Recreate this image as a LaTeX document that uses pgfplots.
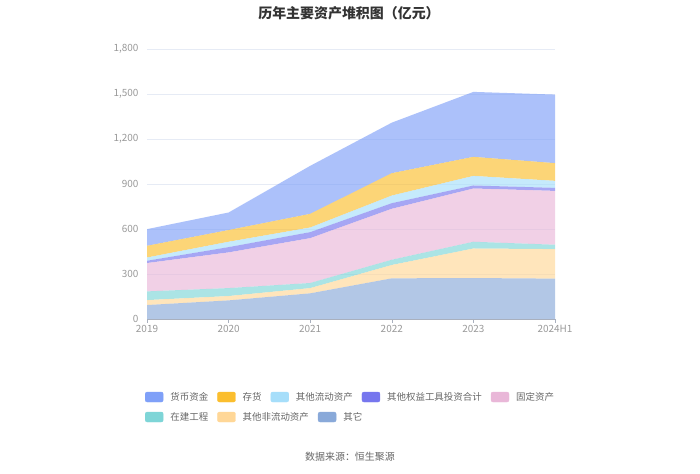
\documentclass[border=0pt]{standalone}
\usepackage{fontspec}
\setmainfont{Noto Sans CJK SC}
\usepackage{pgfplots}
\pgfplotsset{compat=1.18}
\definecolor{c1}{HTML}{7FA0F8}
\definecolor{c2}{HTML}{FBBE2E}
\definecolor{c3}{HTML}{A6DEFA}
\definecolor{c4}{HTML}{7676EE}
\definecolor{c5}{HTML}{E9B7D8}
\definecolor{c6}{HTML}{7ED5D7}
\definecolor{c7}{HTML}{FFD797}
\definecolor{c8}{HTML}{89A9D9}
\definecolor{ticktext}{HTML}{999999}
\definecolor{gridc}{HTML}{E6EBF5}
\definecolor{axisc}{HTML}{A9B0BE}
\pgfplotsset{
  legimg/.style={legend image code/.code={\fill[##1,rounded corners=2bp] (0bp,-5bp) rectangle (18bp,5bp);}},
  legst/.style={legend style={draw=none,fill=none,inner sep=0pt,outer sep=0pt,
     font=\fontsize{9.5}{11}\selectfont, text=black!60,
     nodes={inner sep=0pt},
     /tikz/every odd column/.append style={column sep=7bp},
     /tikz/every even column/.append style={column sep=9bp},
     cells={anchor=west}}},
}
\begin{document}
\begin{tikzpicture}[x=1bp,y=1bp]
\path[use as bounding box] (0,0) rectangle (700,474);
\node[font=\bfseries\fontsize{14}{16}\selectfont, text=black!80] at (349,461) {历年主要资产堆积图（亿元）};
\node[font=\fontsize{10}{12}\selectfont, text=black!60] at (350,17) {数据来源：恒生聚源};
\begin{axis}[
  at={(147bp,155bp)}, anchor=south west,
  scale only axis, width=408bp, height=270bp,
  xmin=0, xmax=5, ymin=0, ymax=1800,
  xtick={0,1,2,3,4,5},
  xticklabels={2019,2020,2021,2022,2023,2024H1},
  ytick={0,300,600,900,1200,1500,1800},
  /pgf/number format/.cd, 1000 sep={,}, assume math mode=true, /pgfplots/.cd,
  axis x line*=bottom, axis y line*=left,
  y axis line style={draw=none},
  x axis line style={draw=axisc, line width=0.8pt, -},
  ytick style={draw=none},
  xtick style={draw=axisc, line width=0.6pt},
  tick align=outside, major tick length=4bp,
  ymajorgrids, grid style={draw=gridc, line width=0.6pt},
  tick label style={font=\fontsize{10}{12}\selectfont, text=ticktext},
  xticklabel style={yshift=1bp},
  yticklabel style={xshift=-1bp},
  stack plots=y,
  every axis plot/.append style={draw=none, fill opacity=0.65},
  clip=false,
]
% 其它
\addplot[fill=c8] coordinates {(0,93) (1,124) (2,171) (3,271) (4,273) (5,269)} \closedcycle;
% 其他非流动资产
\addplot[fill=c7] coordinates {(0,33) (1,29) (2,35) (3,89) (4,197) (5,197)} \closedcycle;
% 在建工程
\addplot[fill=c6] coordinates {(0,58) (1,53) (2,34) (3,35) (4,45) (5,29)} \closedcycle;
% 固定资产
\addplot[fill=c5] coordinates {(0,189) (1,238) (2,299) (3,340) (4,355) (5,359)} \closedcycle;
% 其他权益工具投资合计
\addplot[fill=c4] coordinates {(0,15) (1,35) (2,40) (3,37) (4,20) (5,20)} \closedcycle;
% 其他流动资产
\addplot[fill=c3] coordinates {(0,22) (1,36) (2,31) (3,51) (4,64) (5,47)} \closedcycle;
% 存货
\addplot[fill=c2] coordinates {(0,78) (1,78) (2,91) (3,149) (4,127) (5,118)} \closedcycle;
% 货币资金
\addplot[fill=c1] coordinates {(0,111) (1,117) (2,320) (3,337) (4,433) (5,457)} \closedcycle;
\end{axis}
\begin{axis}[
  at={(147bp,155bp)}, anchor=south west,
  scale only axis, width=408bp, height=270bp,
  xmin=0, xmax=1, ymin=0, ymax=1, hide axis,
  legimg, legst, legend columns=5,
  legend style={at={(-0.0049,-0.289)}, anchor=west},
]
\addlegendimage{c1}\addlegendentry{货币资金}
\addlegendimage{c2}\addlegendentry{存货}
\addlegendimage{c3}\addlegendentry{其他流动资产}
\addlegendimage{c4}\addlegendentry{其他权益工具投资合计}
\addlegendimage{c5}\addlegendentry{固定资产}
\end{axis}
\begin{axis}[
  at={(147bp,155bp)}, anchor=south west,
  scale only axis, width=408bp, height=270bp,
  xmin=0, xmax=1, ymin=0, ymax=1, hide axis,
  legimg, legst, legend columns=3,
  legend style={at={(-0.0049,-0.363)}, anchor=west},
]
\addlegendimage{c6}\addlegendentry{在建工程}
\addlegendimage{c7}\addlegendentry{其他非流动资产}
\addlegendimage{c8}\addlegendentry{其它}
\end{axis}
\end{tikzpicture}
\end{document}
